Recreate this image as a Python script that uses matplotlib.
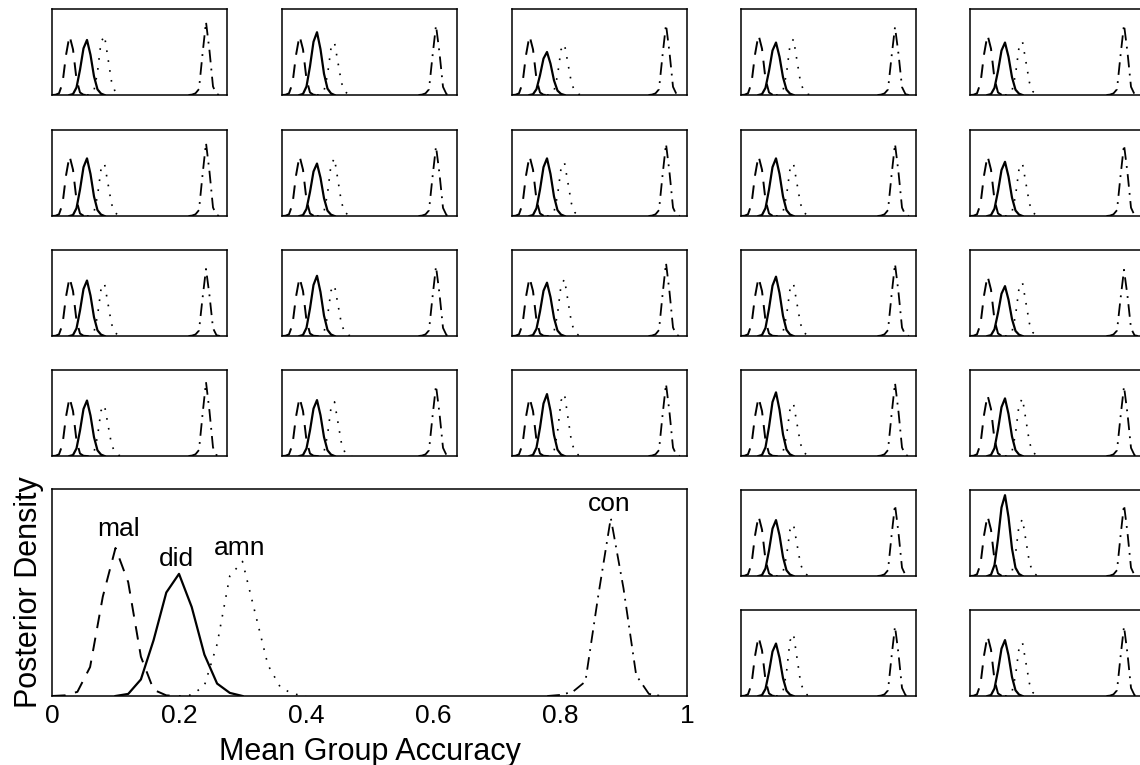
import matplotlib
matplotlib.use('Agg')
import matplotlib.pyplot as plt
import numpy as np

plt.rcParams['font.family'] = ['Liberation Sans', 'DejaVu Sans']

# group-level posterior densities (big panel), heights as fraction of the axes
mal_x = [0.00, 0.02, 0.04, 0.06, 0.08, 0.10, 0.12, 0.14, 0.16, 0.18, 0.20]
mal_y = [0.0, 0.003, 0.02, 0.14, 0.48, 0.715, 0.55, 0.19, 0.03, 0.003, 0.0]
did_x = [0.10, 0.12, 0.14, 0.16, 0.18, 0.20, 0.22, 0.24, 0.26, 0.28, 0.30]
did_y = [0.0, 0.01, 0.08, 0.27, 0.50, 0.59, 0.43, 0.20, 0.06, 0.015, 0.0]
amn_x = [0.20, 0.22, 0.24, 0.26, 0.28, 0.30, 0.32, 0.34, 0.36, 0.38, 0.40]
amn_y = [0.0, 0.005, 0.05, 0.25, 0.58, 0.65, 0.40, 0.15, 0.04, 0.01, 0.0]
con_x = [0.78, 0.80, 0.82, 0.84, 0.86, 0.88, 0.90, 0.92, 0.94, 0.96]
con_y = [0.0, 0.005, 0.02, 0.07, 0.48, 0.86, 0.52, 0.10, 0.01, 0.0]

groups = ['mal', 'did', 'amn', 'con']
label_x = [0.104, 0.196, 0.295, 0.878]
label_y = [0.771, 0.626, 0.682, 0.892]

# peak heights in the 24 small panels (rows 1-4 x cols 1-5, then rows 5-6 x cols 4-5)
mal_peak = [0.69, 0.69, 0.69, 0.70, 0.70,
            0.70, 0.70, 0.70, 0.70, 0.70,
            0.68, 0.68, 0.68, 0.68, 0.70,
            0.68, 0.68, 0.68, 0.68, 0.71,
            0.70, 0.70, 0.69, 0.70]
did_peak = [0.64, 0.73, 0.50, 0.61, 0.61,
            0.67, 0.61, 0.67, 0.67, 0.63,
            0.645, 0.70, 0.62, 0.69, 0.58,
            0.645, 0.65, 0.72, 0.74, 0.67,
            0.65, 0.94, 0.61, 0.65]
amn_peak = [0.69, 0.61, 0.59, 0.65, 0.62,
            0.61, 0.67, 0.62, 0.61, 0.61,
            0.61, 0.59, 0.66, 0.61, 0.62,
            0.59, 0.63, 0.72, 0.61, 0.67,
            0.60, 0.66, 0.72, 0.62]
con_peak = [0.85, 0.81, 0.82, 0.79, 0.82,
            0.85, 0.81, 0.84, 0.84, 0.83,
            0.78, 0.81, 0.85, 0.84, 0.77,
            0.86, 0.82, 0.84, 0.85, 0.81,
            0.83, 0.83, 0.81, 0.81]

tick_vals = [0, 0.2, 0.4, 0.6, 0.8, 1]
tick_labels = ['0', '0.2', '0.4', '0.6', '0.8', '1']

# matlab-like line styles
styles = {
    'mal': dict(ls=(0, (7, 5)), lw=1.4),
    'did': dict(ls='-', lw=1.6),
    'amn': dict(ls=(0, (1, 5)), lw=1.2),
    'con': dict(ls=(0, (7, 3.5, 1, 3.5)), lw=1.3),
}
curves = {'mal': (mal_x, mal_y), 'did': (did_x, did_y),
          'amn': (amn_x, amn_y), 'con': (con_x, con_y)}
peaks = {'mal': mal_peak, 'did': did_peak, 'amn': amn_peak, 'con': con_peak}

W, H = 1140, 765
fig = plt.figure(figsize=(W / 100, H / 100), dpi=100)


def box(left, top, w, h):
    ax = fig.add_axes([left / W, 1 - (top + h) / H, w / W, h / H])
    ax.set_xlim(0, 1)
    ax.set_ylim(0, 1)
    for s in ax.spines.values():
        s.set_linewidth(1.1)
    ax.tick_params(length=0)
    return ax


col_left = [52, 282, 512, 741, 970]
row_top = [9, 130, 250, 370, 490, 610]
cells = [(r, c) for r in range(4) for c in range(5)] + [(4, 3), (4, 4), (5, 3), (5, 4)]

for i, (r, c) in enumerate(cells):
    ax = box(col_left[c], row_top[r], 175, 86)
    for g in groups:
        x, y = curves[g]
        y = np.array(y) / max(y) * peaks[g][i]
        ax.plot(x, y, color='black', **styles[g])
    ax.set_xticks([])
    ax.set_yticks([])

# summary panel
ax = box(52, 489, 635, 207)
for g, lx, ly in zip(groups, label_x, label_y):
    x, y = curves[g]
    ax.plot(x, y, color='black', **styles[g])
    ax.text(lx, ly, g, fontsize=19, ha='center', va='baseline')
ax.set_xticks(tick_vals)
ax.set_xticklabels(tick_labels, fontsize=19)
ax.set_yticks([])
ax.tick_params(axis='x', pad=6)
ax.set_xlabel('Mean Group Accuracy', fontsize=22, labelpad=6)
ax.set_ylabel('Posterior Density', fontsize=22, labelpad=6)

fig.savefig('out.png', dpi=100)
